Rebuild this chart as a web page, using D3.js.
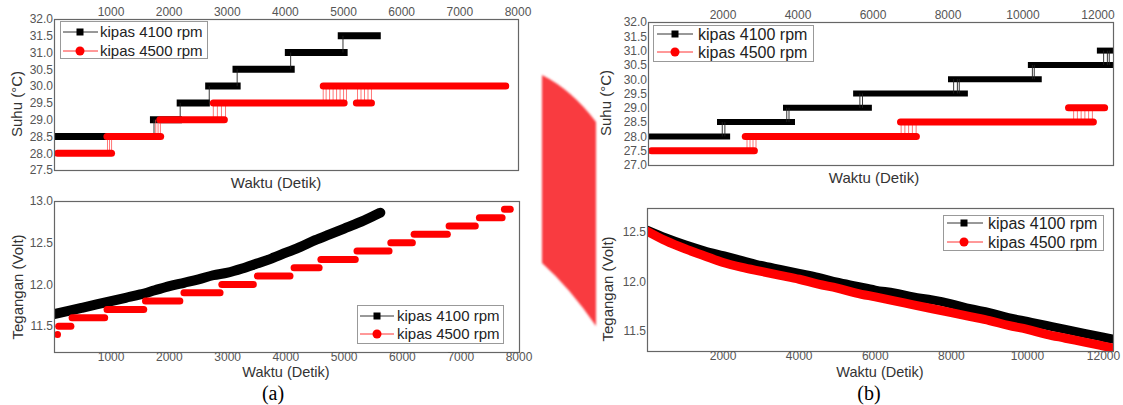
<!DOCTYPE html>
<html><head><meta charset="utf-8">
<script src="https://cdn.jsdelivr.net/npm/d3@7"></script>
<style>body{margin:0;background:#fff}svg{display:block}</style>
</head><body>
<svg id="c" width="1123" height="405"></svg>
<script>
// ---------- DATA ----------
const seriesNames = ['kipas 4100 rpm', 'kipas 4500 rpm'];
const panelLabels = ['(a)', '(b)'];
const xTitle = 'Waktu (Detik)';
const yTitleTemp = 'Suhu (\u00B0C)';
const yTitleVolt = 'Tegangan (Volt)';

const aTempTicks = [27.5, 28.0, 28.5, 29.0, 29.5, 30.0, 30.5, 31.0, 31.5, 32.0];
const aTimeTicks = [1000, 2000, 3000, 4000, 5000, 6000, 7000, 8000];
const aVoltTicks = [11.5, 12.0, 12.5, 13.0];
const bTempTicks = [27.0, 27.5, 28.0, 28.5, 29.0, 29.5, 30.0, 30.5, 31.0, 31.5, 32.0];
const bTimeTicks = [2000, 4000, 6000, 8000, 10000, 12000];
const bVoltTicks = [11.5, 12.0, 12.5];

// (a) temperature, step levels [start s, end s, °C] and jumps [t, low, high]
const aTemp4100 = [[20,1750,28.5],[1670,2220,29.0],[2130,2700,29.5],[2620,3230,30.0],[3090,4160,30.5],[3990,5070,31.0],[4900,5640,31.5]];
const aTemp4100Jumps = [[1740,28.5,29.0],[2190,29.0,29.5],[2690,29.5,30.0],[3170,30.0,30.5],[4090,30.5,31.0],[4990,31.0,31.5]];
const aTemp4500 = [[20,1070,28.0],[870,1915,28.5],[1780,3010,29.0],[2700,5070,29.5],[5160,5540,29.5],[4590,7850,30.0]];
const aTemp4500Jumps = [[940,28.0,28.5],[975,28.0,28.5],[1010,28.0,28.5],[1770,28.5,29.0],[1810,28.5,29.0],[1850,28.5,29.0],
  [2760,29.0,29.5],[2830,29.0,29.5],[2900,29.0,29.5],[2970,29.0,29.5],
  [4650,29.5,30.0],[4700,29.5,30.0],[4760,29.5,30.0],[4820,29.5,30.0],[4880,29.5,30.0],[4940,29.5,30.0],[5000,29.5,30.0],[5050,29.5,30.0],
  [5240,29.5,30.0],[5300,29.5,30.0],[5360,29.5,30.0],[5420,29.5,30.0],[5480,29.5,30.0]];

// (a) voltage
const aVolt4100T = [0,250,500,750,1000,1250,1500,1750,2000,2250,2500,2750,3000,3250,3500,3750,4000,4250,4500,4750,5000,5250,5500,5620];
const aVolt4100V = [11.64,11.68,11.72,11.76,11.80,11.84,11.88,11.93,11.98,12.02,12.06,12.11,12.14,12.19,12.25,12.31,12.38,12.45,12.53,12.60,12.67,12.74,12.82,12.86];
const aVolt4500 = [[20,120,11.4],[40,370,11.5],[270,950,11.6],[870,1620,11.7],[1530,2240,11.8],[2190,2930,11.9],[2840,3500,12.0],[3450,4130,12.1],
  [4080,4630,12.2],[4540,5250,12.3],[5160,5830,12.4],[5740,6230,12.5],[6140,6830,12.6],[6740,7310,12.7],[7260,7770,12.8],[7690,7910,12.9]];

// (b) temperature
const bTemp4100 = [[0,2190,28.0],[1840,3920,28.5],[3600,5970,29.0],[5470,8530,29.5],[8000,10500,30.0],[10130,12400,30.5],[11970,12400,31.0]];
const bTemp4100Jumps = [[1980,28.0,28.5],[2050,28.0,28.5],[3700,28.5,29.0],[3760,28.5,29.0],[5650,29.0,29.5],[5720,29.0,29.5],
  [8150,29.5,30.0],[8250,29.5,30.0],[8300,29.5,30.0],[10250,30.0,30.5],[10300,30.0,30.5],[12150,30.5,31.0],[12250,30.5,31.0],[12300,30.5,31.0]];
const bTemp4500 = [[0,2930,27.5],[2500,7250,28.0],[6640,11970,28.5],[11120,12270,29.0]];
const bTemp4500Jumps = [[2640,27.5,28.0],[2720,27.5,28.0],[2800,27.5,28.0],[2880,27.5,28.0],
  [6750,28.0,28.5],[6850,28.0,28.5],[6950,28.0,28.5],[7050,28.0,28.5],[7150,28.0,28.5],
  [11350,28.5,29.0],[11450,28.5,29.0],[11550,28.5,29.0],[11650,28.5,29.0],[11750,28.5,29.0],[11850,28.5,29.0]];

// (b) voltage
const bVoltT     = [0,500,1000,1500,2000,2500,3000,3500,4000,4500,5000,5500,6000,6500,7000,7500,8000,8500,9000,9500,10000,10500,11000,11500,12000,12250];
const bVolt4100V = [12.52,12.44,12.37,12.31,12.26,12.21,12.16,12.12,12.08,12.04,11.99,11.95,11.91,11.88,11.84,11.81,11.77,11.72,11.68,11.63,11.59,11.55,11.51,11.47,11.43,11.41];
const bVolt4500V = [12.51,12.41,12.33,12.26,12.19,12.14,12.10,12.06,12.02,11.97,11.93,11.88,11.84,11.80,11.76,11.72,11.68,11.64,11.60,11.55,11.51,11.46,11.42,11.38,11.34,11.32];

// ---------- DRAW ----------
const svg = d3.select('#c');
const FONT = "'Liberation Sans', Arial, Helvetica, sans-serif";
const SERIF = "'Liberation Serif', 'Times New Roman', serif";
const BLACK = '#000', RED = '#ff0000';
let clipN = 0;

const defs = svg.append('defs');
defs.append('filter').attr('id','soft').append('feGaussianBlur').attr('stdDeviation',1.2);
svg.append('path')
  .attr('d','M542,75 Q572,90 596,122 L596,326 Q570,288 542,263 Z')
  .attr('fill','#f93a40').attr('filter','url(#soft)');

function panel(cfg) {
  const x = d3.scaleLinear(cfg.xd, [cfg.l, cfg.r]);
  const y = d3.scaleLinear(cfg.yd, [cfg.b, cfg.t]);
  const id = 'clip' + (clipN++);
  defs.append('clipPath').attr('id', id).append('rect')
    .attr('x', cfg.l).attr('y', cfg.t).attr('width', cfg.r - cfg.l).attr('height', cfg.b - cfg.t);
  const g = svg.append('g');
  const plot = g.append('g').attr('clip-path', `url(#${id})`);
  g.append('rect').attr('x', cfg.l + .5).attr('y', cfg.t + .5).attr('width', cfg.r - cfg.l).attr('height', cfg.b - cfg.t)
    .attr('fill', 'none').attr('stroke', '#666').attr('stroke-width', 1.2);
  g.selectAll('.yt').data(cfg.yTicks).enter().append('text')
    .attr('x', cfg.l - 1).attr('y', d => y(d)).attr('dy', '0.36em')
    .attr('text-anchor', 'end').attr('font-family', FONT).attr('font-size', 12).attr('fill', '#555')
    .text(d => d3.format('.1f')(d));
  g.selectAll('.xt').data(cfg.xTicks).enter().append('text')
    .attr('x', d => x(d)).attr('y', cfg.xTop ? cfg.t - 3 : cfg.b + 9)
    .attr('text-anchor', 'middle').attr('font-family', FONT).attr('font-size', 12).attr('fill', '#555')
    .text(d => d);
  g.append('text').attr('x', cfg.xtx).attr('y', cfg.xty).attr('text-anchor', 'middle')
    .attr('font-family', FONT).attr('font-size', cfg.xTop ? 15 : 14.5).attr('fill', '#333').text(xTitle);
  g.append('text').attr('transform', `translate(${cfg.ytx},${cfg.yty}) rotate(-90)`).attr('text-anchor', 'middle')
    .attr('dy', '0.35em').attr('font-family', FONT).attr('font-size', 15).attr('fill', '#333').text(cfg.ytitle);
  return { plot, x, y, g };
}

function steps(p, segs, color, w, round) {
  const inset = round ? w / 2 : 0;
  p.plot.selectAll(null).data(segs).enter().append('line')
    .attr('x1', d => p.x(d[0]) + inset).attr('x2', d => Math.max(p.x(d[0]) + inset, p.x(d[1]) - inset))
    .attr('y1', d => p.y(d[2])).attr('y2', d => p.y(d[2]))
    .attr('stroke', color).attr('stroke-width', w).attr('stroke-linecap', round ? 'round' : 'butt');
}
function jumps(p, js, color, op) {
  p.plot.selectAll(null).data(js).enter().append('line')
    .attr('x1', d => p.x(d[0])).attr('x2', d => p.x(d[0]))
    .attr('y1', d => p.y(d[1])).attr('y2', d => p.y(d[2]))
    .attr('stroke', color).attr('stroke-width', 1).attr('stroke-opacity', op);
}
function band(p, ts, vs, color, w) {
  const line = d3.line().x(d => p.x(d[0])).y(d => p.y(d[1])).curve(d3.curveMonotoneX);
  p.plot.append('path').datum(ts.map((t, i) => [t, vs[i]])).attr('d', line)
    .attr('fill', 'none').attr('stroke', color).attr('stroke-width', w)
    .attr('stroke-linecap', 'round').attr('stroke-linejoin', 'round');
}
function legend(x0, y0, w, h, rowYs, lx1, lx2, mx, tx, fs) {
  const g = svg.append('g');
  g.append('rect').attr('x', x0 + .5).attr('y', y0 + .5).attr('width', w).attr('height', h)
    .attr('fill', '#fff').attr('stroke', '#999').attr('stroke-width', 1);
  seriesNames.forEach((name, i) => {
    const c = i === 0 ? BLACK : RED;
    const yy = rowYs[i];
    g.append('line').attr('x1', lx1).attr('x2', lx2).attr('y1', yy).attr('y2', yy)
      .attr('stroke', i === 0 ? '#333' : '#f33').attr('stroke-width', 1);
    if (i === 0) g.append('rect').attr('x', mx - 3.5).attr('y', yy - 3.5).attr('width', 7).attr('height', 7).attr('fill', c);
    else g.append('circle').attr('cx', mx).attr('cy', yy).attr('r', 4.5).attr('fill', c);
    g.append('text').attr('x', tx).attr('y', yy).attr('dy', '0.36em').attr('font-family', FONT)
      .attr('font-size', fs).attr('fill', '#222').text(name);
  });
}

// (a) top
const pA1 = panel({ l: 54, r: 518, t: 19, b: 170, xd: [20, 8000], yd: [27.5, 32.0], xTicks: aTimeTicks, yTicks: aTempTicks, xTop: true,
  xtx: 276, xty: 188, ytx: 17, yty: 104, ytitle: yTitleTemp });
steps(pA1, aTemp4100, BLACK, 7, false);
jumps(pA1, aTemp4100Jumps, '#222', 0.9);
jumps(pA1, aTemp4500Jumps, '#ff5555', 0.8);
steps(pA1, aTemp4500, RED, 7, true);
legend(60, 21, 147, 37, [32, 51], 63, 98, 80, 100, 15);

// (a) bottom
const pA2 = panel({ l: 54, r: 519, t: 201, b: 352, xd: [20, 8000], yd: [11.19, 13.0], xTicks: aTimeTicks, yTicks: aVoltTicks, xTop: false,
  xtx: 286, xty: 377, ytx: 18, yty: 287, ytitle: yTitleVolt });
band(pA2, aVolt4100T, aVolt4100V, BLACK, 10);
steps(pA2, aVolt4500, RED, 7, true);
legend(357, 305, 146, 38, [316, 334], 360, 394, 377, 397, 15);

// (b) top
const pB1 = panel({ l: 648, r: 1113, t: 22, b: 165, xd: [0, 12400], yd: [27.0, 32.0], xTicks: bTimeTicks, yTicks: bTempTicks, xTop: true,
  xtx: 874, xty: 183, ytx: 606, yty: 103, ytitle: yTitleTemp });
steps(pB1, bTemp4100, BLACK, 6, false);
jumps(pB1, bTemp4100Jumps, '#222', 0.9);
jumps(pB1, bTemp4500Jumps, '#ff5555', 0.8);
steps(pB1, bTemp4500, RED, 7, true);
legend(653, 25, 160, 36, [34, 52], 657, 693, 675, 698, 16);

// (b) bottom
const pB2 = panel({ l: 647, r: 1113, t: 208, b: 351, xd: [0, 12250], yd: [11.29, 12.745], xTicks: bTimeTicks, yTicks: bVoltTicks, xTop: false,
  xtx: 880, xty: 377, ytx: 608, yty: 289, ytitle: yTitleVolt });
band(pB2, bVoltT, bVolt4100V, BLACK, 9);
band(pB2, bVoltT, bVolt4500V, RED, 9);
legend(943, 215, 160, 35, [223, 242], 947, 983, 964, 988, 16);

// panel labels
svg.append('text').attr('x', 273).attr('y', 400).attr('text-anchor', 'middle')
  .attr('font-family', SERIF).attr('font-size', 20).attr('fill', '#000').text(panelLabels[0]);
svg.append('text').attr('x', 869).attr('y', 400).attr('text-anchor', 'middle')
  .attr('font-family', SERIF).attr('font-size', 20).attr('fill', '#000').text(panelLabels[1]);
</script></body></html>
